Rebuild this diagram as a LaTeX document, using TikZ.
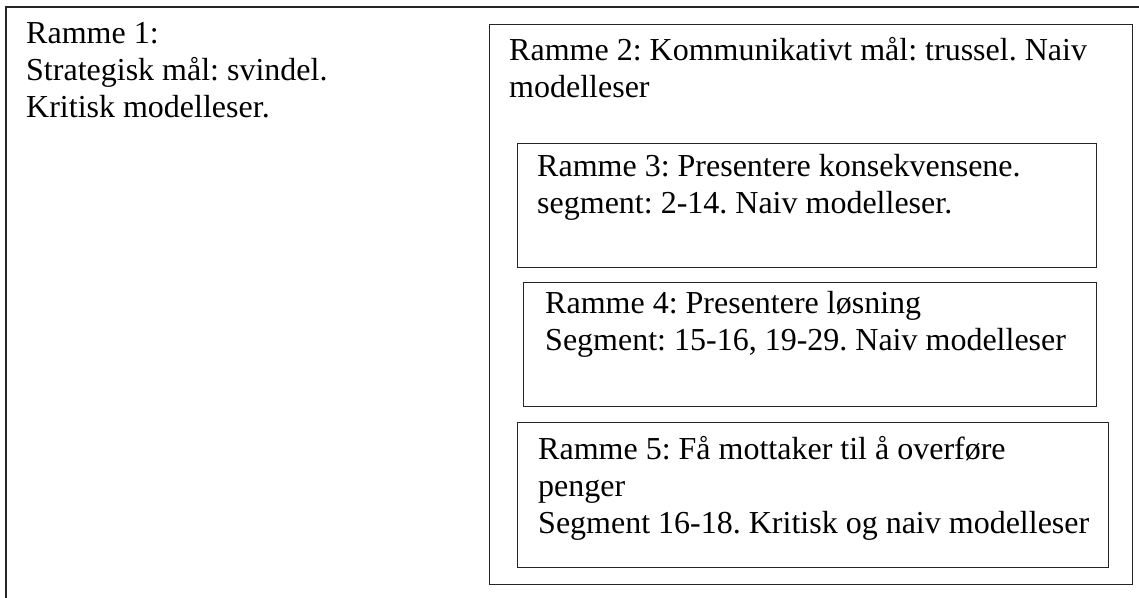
\documentclass[tikz,border=0pt]{standalone}
\usepackage{fontspec}
\setmainfont{Liberation Serif}
\frenchspacing
\tikzset{
  frame/.style={draw=black!85, line width=1.3pt},
  label/.style={anchor=base west, align=left, inner sep=0pt, font=\fontsize{32}{37}\selectfont}
}
\begin{document}
\begin{tikzpicture}[x=1pt, y=-1pt]
\useasboundingbox (0,0) rectangle (1139,597);
\clip (0,0) rectangle (1139,597);
% outer frame (right and bottom edges lie outside the picture)
\draw[frame] (6,7) rectangle (1160,620);
% boxes
\node[frame, anchor=north west, minimum width=643pt, minimum height=560pt, inner sep=0pt] (r2) at (489,24) {};
\node[frame, anchor=north west, minimum width=579pt, minimum height=124pt, inner sep=0pt] (r3) at (517,143) {};
\node[frame, anchor=north west, minimum width=573pt, minimum height=124pt, inner sep=0pt] (r4) at (523,282) {};
\node[frame, anchor=north west, minimum width=591pt, minimum height=145pt, inner sep=0pt] (r5) at (517,422) {};
% texts (base anchor = baseline of last line)
\node[label] (t1) at (26,117) {Ramme 1:\\Strategisk mål: svindel.\\Kritisk modelleser.};
\node[label] (t2) at (509,97) {Ramme 2: Kommunikativt mål: trussel. Naiv\\modelleser};
\node[label] (t3) at (537,213) {Ramme 3: Presentere konsekvensene.\\segment: 2-14. Naiv modelleser.};
\node[label] (t4) at (545,350) {Ramme 4: Presentere løsning\\Segment: 15-16, 19-29. Naiv modelleser};
\node[label] (t5) at (538,533) {Ramme 5: Få mottaker til å overføre\\penger\\Segment 16-18. Kritisk og naiv modelleser};
\end{tikzpicture}
\end{document}
